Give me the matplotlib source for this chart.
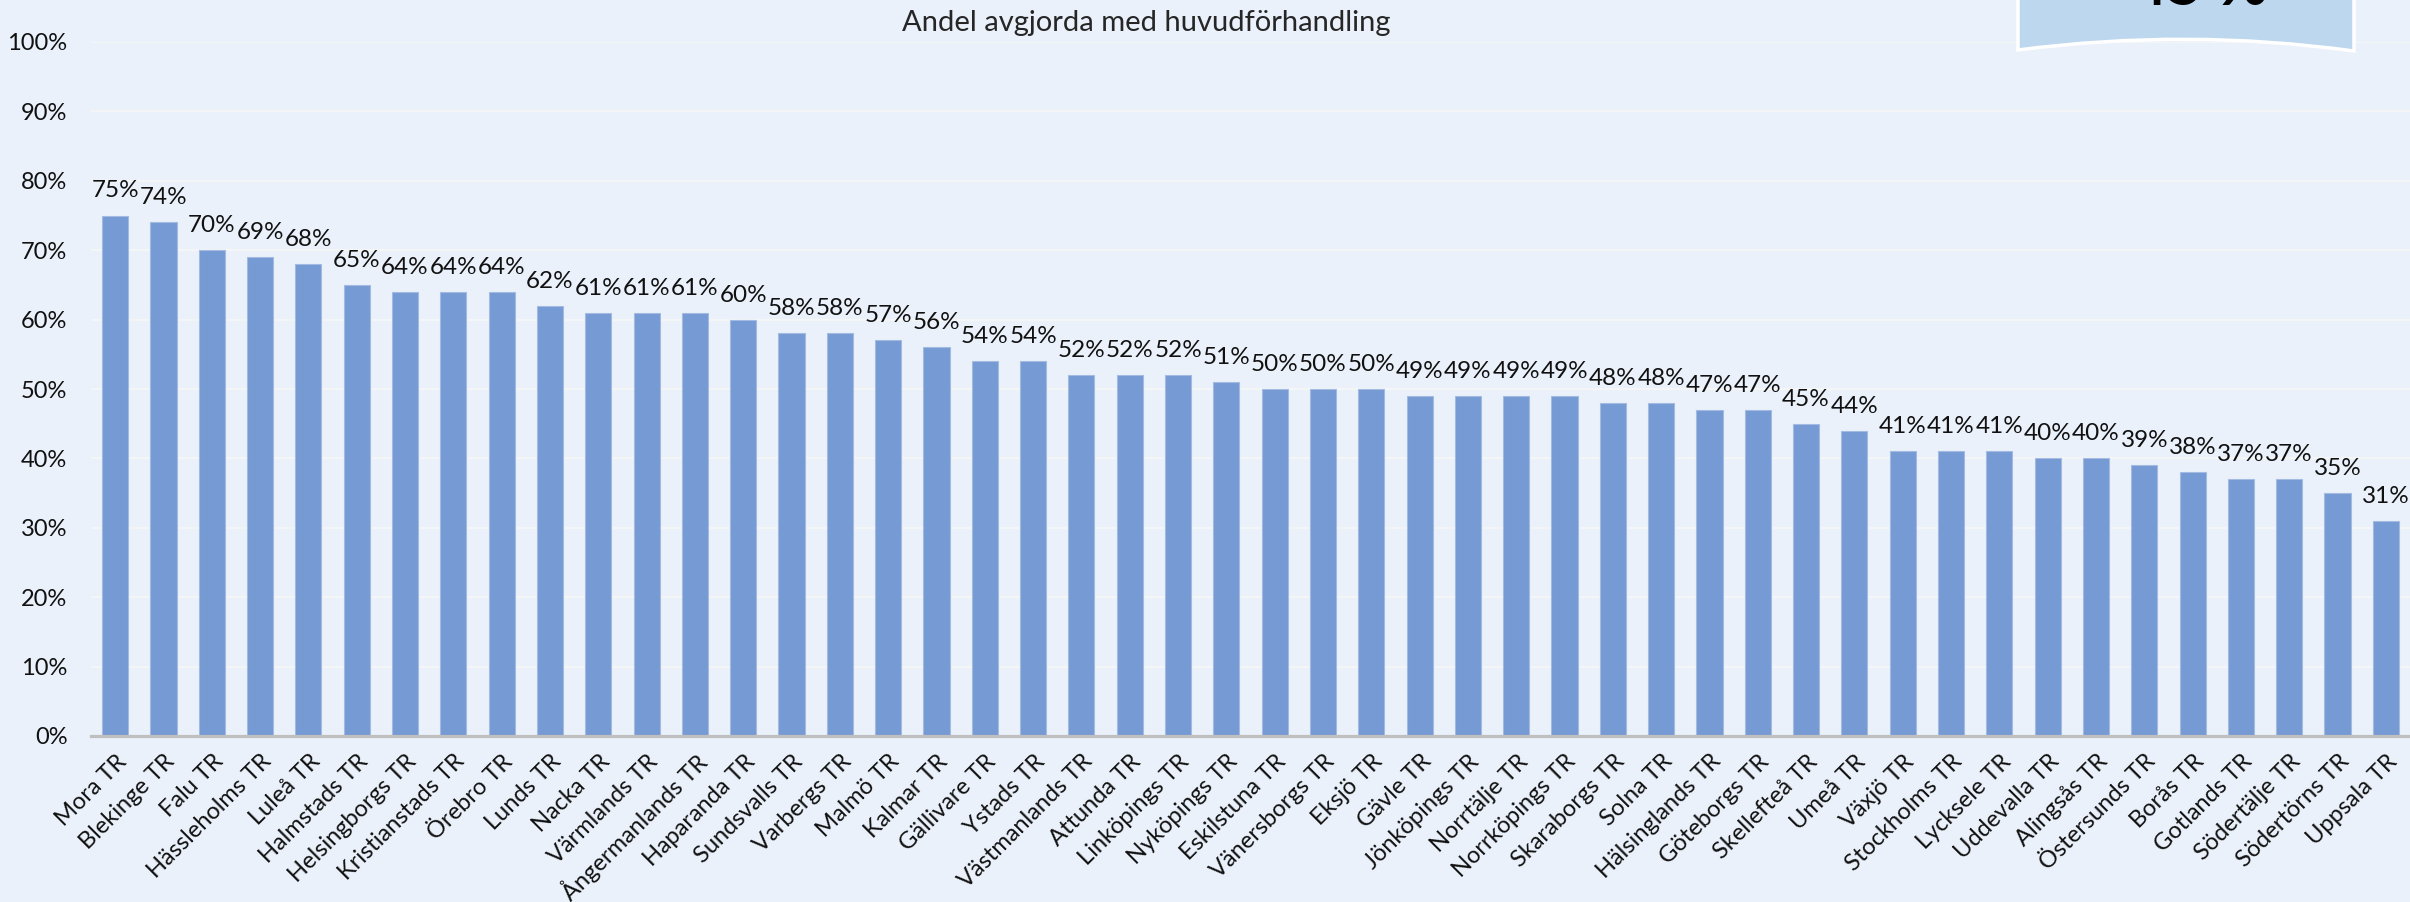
import matplotlib.pyplot as plt
from matplotlib.path import Path
from matplotlib.patches import PathPatch
from matplotlib.ticker import PercentFormatter
from matplotlib.transforms import ScaledTranslation

courts = ["Mora TR", "Blekinge TR", "Falu TR", "Hässleholms TR", "Luleå TR", "Halmstads TR",
          "Helsingborgs TR", "Kristianstads TR", "Örebro TR", "Lunds TR", "Nacka TR",
          "Värmlands TR", "Ångermanlands TR", "Haparanda TR", "Sundsvalls TR", "Varbergs TR",
          "Malmö TR", "Kalmar TR", "Gällivare TR", "Ystads TR", "Västmanlands TR", "Attunda TR",
          "Linköpings TR", "Nyköpings TR", "Eskilstuna TR", "Vänersborgs TR", "Eksjö TR",
          "Gävle TR", "Jönköpings TR", "Norrtälje TR", "Norrköpings TR", "Skaraborgs TR",
          "Solna TR", "Hälsinglands TR", "Göteborgs TR", "Skellefteå TR", "Umeå TR", "Växjö TR",
          "Stockholms TR", "Lycksele TR", "Uddevalla TR", "Alingsås TR", "Östersunds TR",
          "Borås TR", "Gotlands TR", "Södertälje TR", "Södertörns TR", "Uppsala TR"]
share = [75, 74, 70, 69, 68, 65, 64, 64, 64, 62, 61, 61, 61, 60, 58, 58, 57, 56, 54, 54,
         52, 52, 52, 51, 50, 50, 50, 49, 49, 49, 49, 48, 48, 47, 47, 45, 44, 41, 41, 41,
         40, 40, 39, 38, 37, 37, 35, 31]
yticks = [0, 10, 20, 30, 40, 50, 60, 70, 80, 90, 100]
title = "Andel avgjorda med huvudförhandling"
badge = "45 %"

bg = "#EAF1FA"
plt.rcParams["font.family"] = ["Lato", "DejaVu Sans"]

fig = plt.figure(figsize=(24.1, 9.02), dpi=100, facecolor=bg)
ax = fig.add_axes([91 / 2410, 166 / 902, 1 - 91 / 2410, (736 - 42) / 902])
ax.set_facecolor(bg)

x = list(range(len(courts)))
ax.bar(x, share, width=0.54, color="#769AD4", edgecolor="#A3BBE3", linewidth=0.8, zorder=3)
for xi, v in zip(x, share):
    ax.annotate(f"{v}%", (xi, v), xytext=(0, 13), textcoords="offset points",
                ha="center", va="baseline", fontsize=17.5, color="#111111", zorder=4)

ax.set_xlim(-0.5, len(courts) - 0.5)
ax.set_ylim(0, 100)
ax.set_yticks(yticks)
ax.yaxis.set_major_formatter(PercentFormatter(decimals=0))
ax.grid(axis="y", color="#F3F5F7", linewidth=1.5, zorder=0)
for s in ["top", "right", "left"]:
    ax.spines[s].set_visible(False)
ax.spines["bottom"].set_color("#BFBFBF")
ax.spines["bottom"].set_linewidth(2.3)
ax.spines["bottom"].set_zorder(5)
ax.tick_params(axis="y", length=0, pad=17, labelsize=17, labelcolor="#111111")
ax.tick_params(axis="x", length=0, pad=16)
ax.set_xticks(x)
ax.set_xticklabels(courts, rotation=45, ha="right", va="center", rotation_mode="anchor",
                   fontsize=17, color="#111111")
shift = ScaledTranslation(8 / 100, 0, fig.dpi_scale_trans)
for lab in ax.get_xticklabels():
    lab.set_transform(lab.get_transform() + shift)

fig.text(1146 / 2410, 1 - 23 / 902, title, ha="center", va="center", fontsize=21,
         color="#262626")


# badge box in the top right corner (pixel coords -> inches)
def px(xp, yp):
    return (xp / 100, (902 - yp) / 100)


verts = [px(2018, -20), px(2354, -20), px(2354, 51), px(2186, 28), px(2018, 50), px(2018, -20)]
codes = [Path.MOVETO, Path.LINETO, Path.LINETO, Path.CURVE3, Path.CURVE3, Path.CLOSEPOLY]
fig.patches.append(PathPatch(Path(verts, codes), transform=fig.dpi_scale_trans,
                             facecolor="#BDD7EE", edgecolor="white", linewidth=2.5))
fig.text(2200 / 2410, 1 - 5 / 902, badge, ha="center", va="baseline", fontsize=44,
         fontweight="bold", color="black")

fig.savefig("out.png", facecolor=bg)
